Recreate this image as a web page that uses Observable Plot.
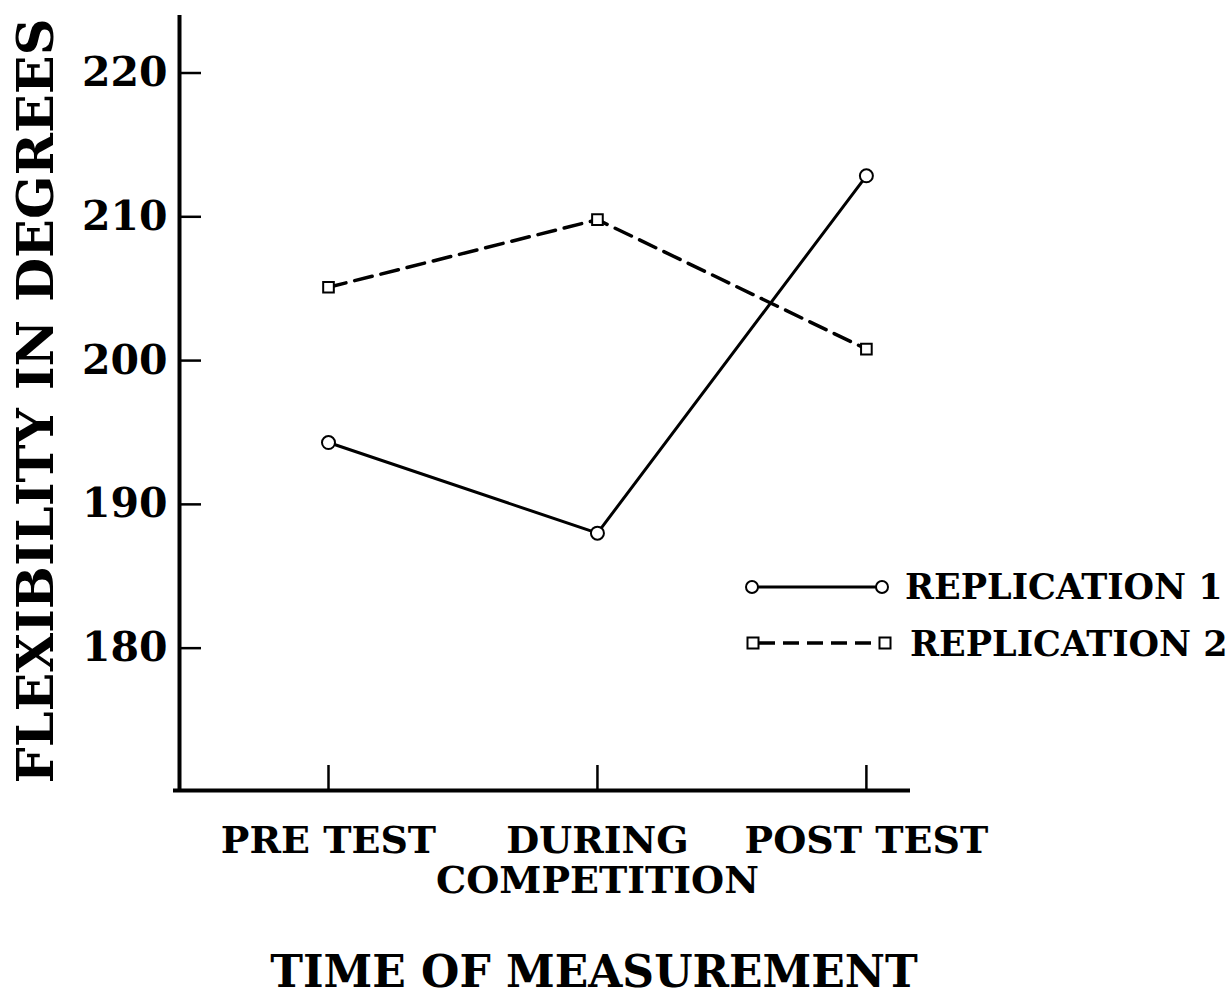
<!DOCTYPE html>
<html>
<head>
<meta charset="utf-8">
<script src="https://cdn.jsdelivr.net/npm/d3@7"></script>
<script src="https://cdn.jsdelivr.net/npm/@observablehq/plot@0.6"></script>
<style>
  body { margin: 0; background: #fff; }
  #wrap { position: relative; width: 1232px; height: 996px; background: #fff; }
  #legend { position: absolute; left: 0; top: 0; pointer-events: none; }
  #legend text { font-family: "DejaVu Serif"; font-weight: bold; font-size: 35px; fill: #000; }
</style>
</head>
<body>
<div id="wrap"></div>
<script>
// ---- data ----
const categories = ["PRE TEST", "DURING\nCOMPETITION", "POST TEST"];
const replication1 = [194.3, 188.0, 212.85];
const replication2 = [205.1, 209.8, 200.8];
const yTicks = [180, 190, 200, 210, 220];
const seriesNames = ["REPLICATION 1", "REPLICATION 2"];
const yLabel = "FLEXIBILITY IN DEGREES";
const xLabel = "TIME OF MEASUREMENT";

const rows1 = replication1.map((v, i) => ({i, v}));
const rows2 = replication2.map((v, i) => ({i, v}));
const xDomain = [-0.554, 2.164];
const yDomain = [170.1, 224];

const chart = Plot.plot({
  width: 1232,
  height: 996,
  marginLeft: 179,
  marginRight: 322,
  marginTop: 15,
  marginBottom: 206,
  style: "font-family: 'DejaVu Serif'; font-weight: bold; background: #fff; color: #000; overflow: visible;",
  x: {domain: xDomain},
  y: {domain: yDomain},
  marks: [
    Plot.ruleX([xDomain[0]], {stroke: "#000", strokeWidth: 4}),
    Plot.ruleY([yDomain[0]], {stroke: "#000", strokeWidth: 4, insetLeft: -6}),
    Plot.axisY(yTicks, {tickSize: -22, tickPadding: 34, fontSize: 41, strokeWidth: 2.5, label: null}),
    Plot.axisX([0, 1, 2], {tickSize: -25, tickPadding: 59, fontSize: 38, lineHeight: 1.06, strokeWidth: 2.5, label: null, tickFormat: i => categories[i]}),
    Plot.text([yLabel], {frameAnchor: "left", textAnchor: "middle", lineAnchor: "middle", rotate: -90, dx: -143, dy: -2, fontSize: 51}),
    Plot.text([xLabel], {frameAnchor: "bottom", textAnchor: "middle", lineAnchor: "middle", dx: 49, dy: 182, fontSize: 44}),
    Plot.line(rows1, {x: "i", y: "v", stroke: "#000", strokeWidth: 3}),
    Plot.line(rows2, {x: "i", y: "v", stroke: "#000", strokeWidth: 3.5, strokeDasharray: "18,9"}),
    Plot.dot(rows1, {x: "i", y: "v", r: 6.5, symbol: "circle", fill: "#fff", stroke: "#000", strokeWidth: 2}),
    Plot.dot(rows2, {x: "i", y: "v", r: 6, symbol: "square", fill: "#fff", stroke: "#000", strokeWidth: 2})
  ]
});
document.getElementById("wrap").appendChild(chart);

// legend overlay
const ns = "http://www.w3.org/2000/svg";
const lg = document.createElementNS(ns, "svg");
lg.setAttribute("id", "legend");
lg.setAttribute("width", 1232);
lg.setAttribute("height", 996);
lg.innerHTML = `
  <g transform="translate(752,587)">
    <line x1="6" y1="0" x2="124" y2="0" stroke="#000" stroke-width="3"/>
    <circle cx="0" cy="0" r="6" fill="#fff" stroke="#000" stroke-width="2"/>
    <circle cx="130" cy="0" r="6" fill="#fff" stroke="#000" stroke-width="2"/>
    <text x="153" y="12">${seriesNames[0]}</text>
  </g>
  <g transform="translate(753,643)">
    <line x1="6" y1="0" x2="127" y2="0" stroke="#000" stroke-width="3.5" stroke-dasharray="16,8"/>
    <rect x="-5.5" y="-5.5" width="11" height="11" fill="#fff" stroke="#000" stroke-width="2"/>
    <rect x="126.5" y="-5.5" width="11" height="11" fill="#fff" stroke="#000" stroke-width="2"/>
    <text x="157" y="13">${seriesNames[1]}</text>
  </g>`;
document.getElementById("wrap").appendChild(lg);
</script>
</body>
</html>
